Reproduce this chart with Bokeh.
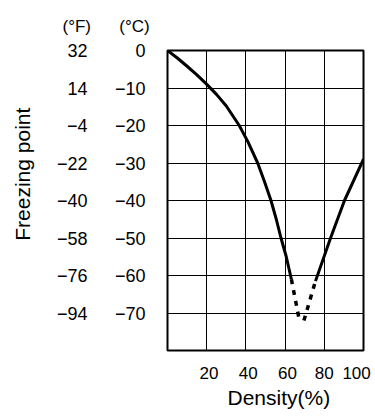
from bokeh.plotting import figure
from bokeh.models import LinearAxis, FixedTicker, Range1d, Title
from bokeh.embed import file_html
from bokeh.resources import INLINE

# ---- data (density %, freezing point °C) ----
density_left = [0, 5, 10, 15, 19.8, 25, 30, 36.6, 41, 46, 49.5, 52.8, 55.5, 57.9, 60.6, 63.2]
temp_left = [0, -2.0, -4.2, -6.5, -8.9, -11.7, -14.8, -20, -24.3, -30, -35, -40, -45, -50, -55, -61]
density_dot_left = [63.2, 67.3]
temp_dot_left = [-61, -72]
density_dot_right = [69.6, 75.5]
temp_dot_right = [-72, -61.5]
density_right = [75.5, 83.2, 90.3, 100]
temp_right = [-61.5, -50, -40, -29]

NB = "\u00a0"
x_ticks = [20, 40, 60, 80, 100]
x_labels = [NB + "20", NB + "40", NB + "60", "80", "100" + NB]
c_ticks = [0, -10, -20, -30, -40, -50, -60, -70]
c_labels = ["0", "\u221210", "\u221220", "\u221230", "\u221240", "\u221250", "\u221260", "\u221270"]
f_labels = ["32", "14", "\u22124", "\u221222", "\u221240", "\u221258", "\u221276", "\u221294"]
grid_x = [20, 40, 60, 80]
grid_y = [-10, -20, -30, -40, -50, -60, -70]
unit_headers = "(°F)" + NB * 6 + "(°C)"
y_title = NB * 9 + "Freezing point"
x_title = "Density(%)"

FONT = "Liberation Sans"

p = figure(width=375, height=416, output_backend="svg", toolbar_location=None,
           x_range=Range1d(0, 100), y_range=Range1d(-80, 0),
           x_axis_location=None, y_axis_location=None,
           min_border_left=167, min_border_right=12, min_border_top=50, min_border_bottom=66)
p.outline_line_color = "black"
p.outline_line_width = 2
p.outline_line_alpha = 1
p.background_fill_color = "white"
p.border_fill_color = "white"

p.xgrid.ticker = FixedTicker(ticks=grid_x)
p.ygrid.ticker = FixedTicker(ticks=grid_y)
for g in (p.xgrid, p.ygrid):
    g.grid_line_color = "black"
    g.grid_line_width = 1
    g.grid_line_alpha = 1


def style_axis(ax, size, standoff):
    ax.axis_line_color = None
    ax.major_tick_line_color = None
    ax.minor_tick_line_color = None
    ax.major_tick_out = 0
    ax.major_tick_in = 0
    ax.minor_tick_out = 0
    ax.major_label_text_font = FONT
    ax.major_label_text_font_size = size
    ax.major_label_text_color = "black"
    ax.major_label_standoff = standoff


ax_c = LinearAxis(ticker=FixedTicker(ticks=c_ticks),
                  major_label_overrides={t: l for t, l in zip(c_ticks, c_labels)})
style_axis(ax_c, "18px", 22)
ax_f = LinearAxis(ticker=FixedTicker(ticks=c_ticks),
                  major_label_overrides={t: l for t, l in zip(c_ticks, f_labels)},
                  axis_label=y_title)
style_axis(ax_f, "18px", 24)
ax_f.axis_label_standoff = 20
ax_f.axis_label_text_font = FONT
ax_f.axis_label_text_font_size = "21px"
ax_f.axis_label_text_font_style = "normal"
ax_f.axis_label_text_color = "black"
p.add_layout(ax_c, "left")
p.add_layout(ax_f, "left")

ax_x = LinearAxis(ticker=FixedTicker(ticks=x_ticks),
                  major_label_overrides={t: l for t, l in zip(x_ticks, x_labels)})
style_axis(ax_x, "17px", 13)
p.add_layout(ax_x, "below")

# curve
p.line(density_left, temp_left, line_color="black", line_width=3)
p.line(density_right, temp_right, line_color="black", line_width=3)
p.line(density_dot_left, temp_dot_left, line_color="black", line_width=3.5, line_dash="5 6")
p.line(density_dot_right, temp_dot_right, line_color="black", line_width=3.5, line_dash="5 6")

# titles
p.add_layout(Title(text=unit_headers, align="left", offset=-105, vertical_align="middle",
                   standoff=27, text_font=FONT, text_font_size="17px",
                   text_font_style="normal", text_color="black"), "above")
p.add_layout(Title(text=x_title, align="left", offset=60, vertical_align="top",
                   standoff=0, text_font=FONT, text_font_size="21px",
                   text_font_style="normal", text_color="black"), "below")

open("out.html", "w").write(file_html(p, INLINE))
